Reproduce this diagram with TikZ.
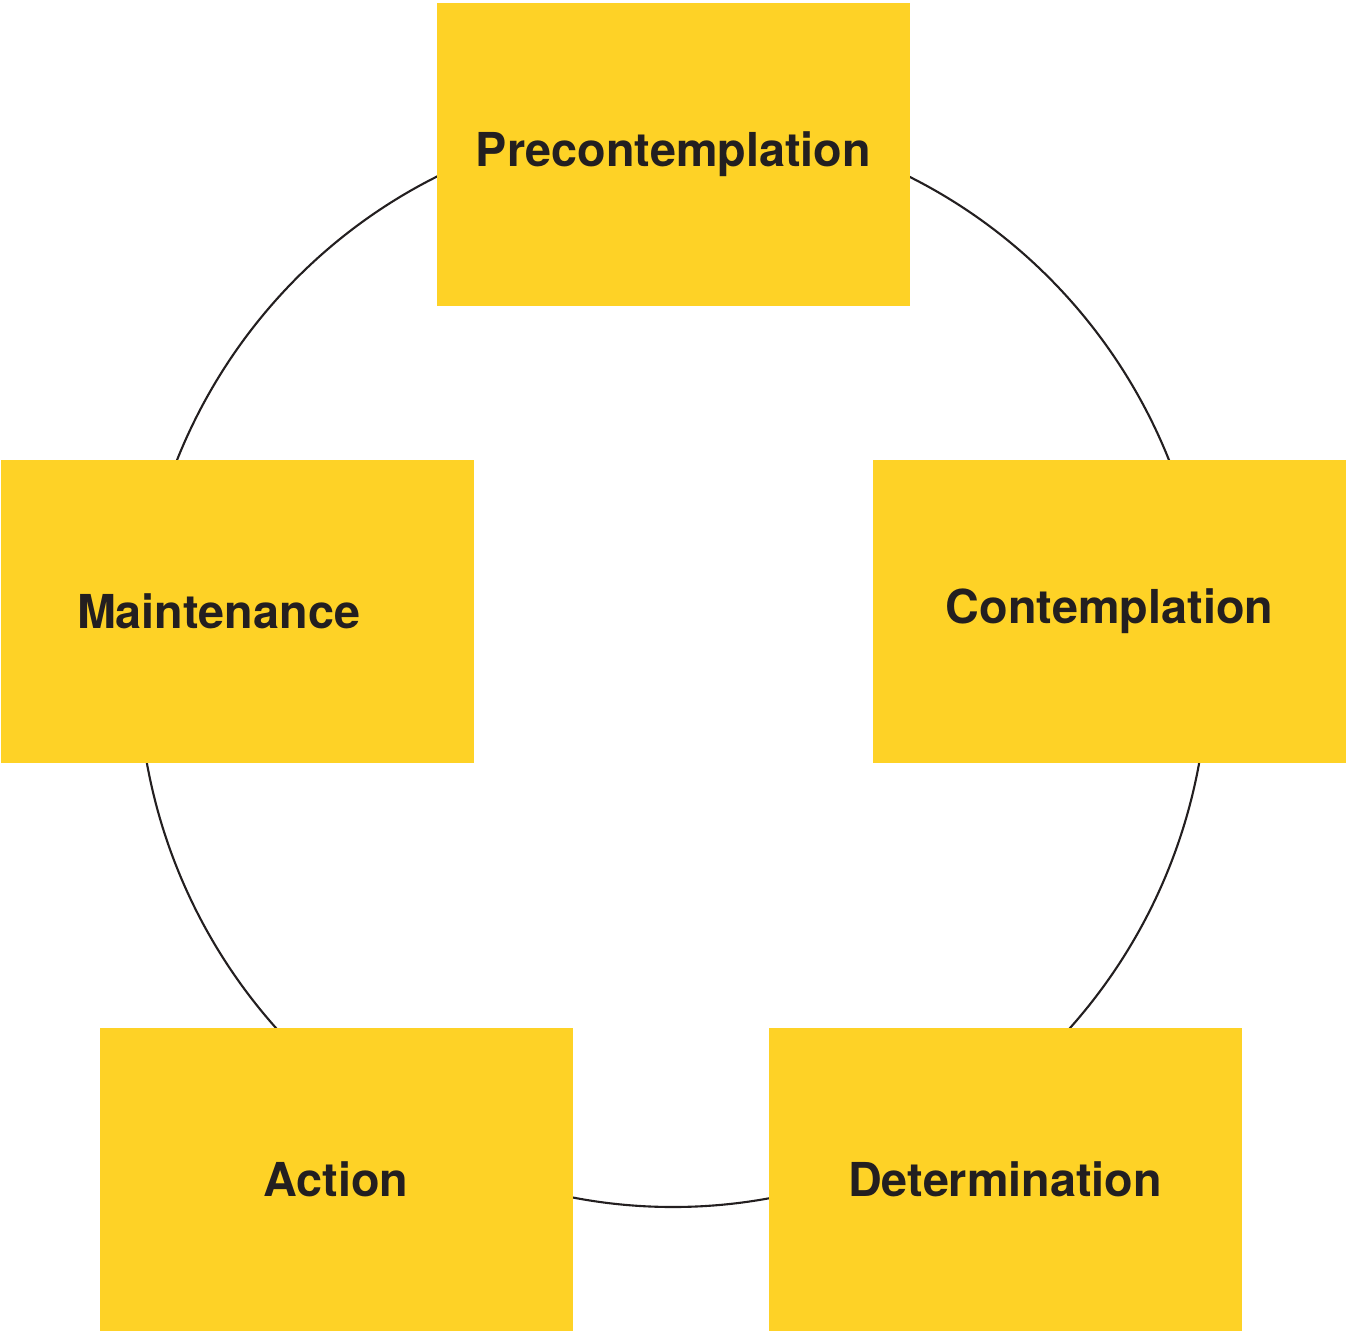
\documentclass[tikz,border=0pt]{standalone}
\usepackage{fontspec}
\setmainfont{TeX Gyre Heros}
\definecolor{stageyellow}{HTML}{FED226}
\definecolor{inkdark}{HTML}{231F20}
\tikzset{
    stagebox/.style={fill=stageyellow, minimum width=4.73cm, minimum height=3.03cm,
        inner sep=0pt, text=inkdark, font=\fontsize{13.3}{15}\selectfont\bfseries}
}

\begin{document}
\begin{tikzpicture}
            \useasboundingbox (0,0) rectangle (13.46,13.33);
            \draw[inkdark, line width=0.6pt] (6.73,6.69) ellipse (5.35 and 5.43);
            \node[stagebox] (pre) at (6.735,11.785) {Precontemplation};
            \node[stagebox] (cont) at (11.095,7.215) {Contemplation};
            \node[stagebox] (maint) at (2.375,7.215) {};
            \node[text=inkdark, font=\fontsize{13.3}{15}\selectfont\bfseries] (maintlabel) at ([xshift=-0.19cm]maint.center) {Maintenance};
            \node[stagebox] (act) at (3.36,1.535) {Action};
            \node[stagebox] (det) at (10.05,1.535) {Determination};
        \end{tikzpicture}
\end{document}
